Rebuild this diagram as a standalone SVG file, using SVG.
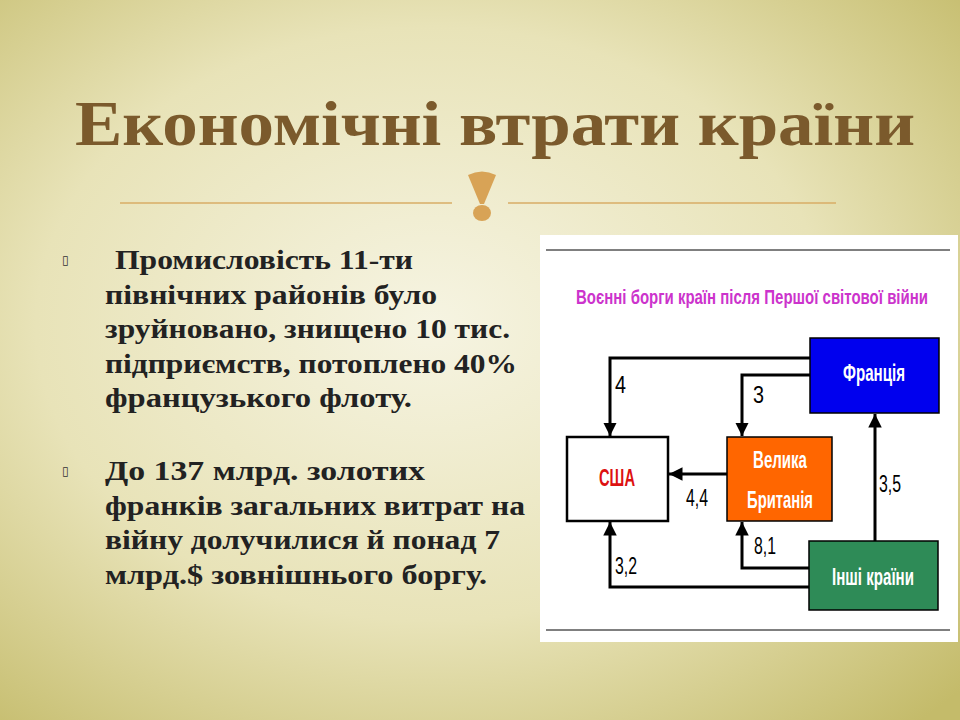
<svg xmlns="http://www.w3.org/2000/svg" width="960" height="720" viewBox="0 0 960 720">
<defs>
<radialGradient id="bg" cx="0.45" cy="0.45" r="0.75">
<stop offset="0" stop-color="#f6f4e2"/><stop offset="0.55" stop-color="#e8e3b8"/><stop offset="1" stop-color="#c4bb6a"/>
</radialGradient>
<marker id="ah" viewBox="0 0 10 10" refX="10" refY="5" markerWidth="4.5" markerHeight="4.5" orient="auto" markerUnits="strokeWidth"><path d="M0,0 L10,5 L0,10 z" fill="#000"/></marker>
<style>
.body{font-family:"Liberation Serif",serif;font-weight:bold;font-size:28px;fill:#222}
.bul{font-family:"DejaVu Sans",sans-serif;font-size:12px;fill:#333}
.lbl{font-family:"Liberation Sans",sans-serif;font-size:24px;fill:#000}
.nt{font-family:"Liberation Sans",sans-serif;font-weight:bold;font-size:24px;text-anchor:middle}
.con{fill:none;stroke:#000;stroke-width:3}
</style>
</defs>
<rect width="960" height="720" fill="url(#bg)"/>
<text x="75" y="145" textLength="840" lengthAdjust="spacingAndGlyphs" font-family="Liberation Serif,serif" font-weight="bold" font-size="64" fill="#7b5a2c">Економічні втрати країни</text>
<line x1="120" y1="203" x2="452" y2="203" stroke="#d8ac66" stroke-width="1.5"/>
<line x1="508" y1="203" x2="836" y2="203" stroke="#d8ac66" stroke-width="1.5"/>
<path d="M468,175 Q482,168 496,175 L484,204 L480,204 Z" fill="#d8a356"/>
<ellipse cx="482" cy="213" rx="9" ry="8" fill="#d8a356"/>
<text class="bul" x="62" y="264">▯</text>
<text class="body" x="115" y="269" textLength="298" lengthAdjust="spacingAndGlyphs">Промисловість 11-ти</text>
<text class="body" x="105" y="304" textLength="332" lengthAdjust="spacingAndGlyphs">північних районів було</text>
<text class="body" x="105" y="338" textLength="405" lengthAdjust="spacingAndGlyphs">зруйновано, знищено 10 тис.</text>
<text class="body" x="105" y="373" textLength="412" lengthAdjust="spacingAndGlyphs">підприємств, потоплено 40%</text>
<text class="body" x="105" y="407" textLength="307" lengthAdjust="spacingAndGlyphs">французького флоту.</text>
<text class="bul" x="62" y="475">▯</text>
<text class="body" x="105" y="480" textLength="320" lengthAdjust="spacingAndGlyphs">До 137 млрд. золотих</text>
<text class="body" x="105" y="515" textLength="420" lengthAdjust="spacingAndGlyphs">франків загальних витрат на</text>
<text class="body" x="105" y="549" textLength="395" lengthAdjust="spacingAndGlyphs">війну долучилися й понад 7</text>
<text class="body" x="105" y="584" textLength="382" lengthAdjust="spacingAndGlyphs">млрд.$ зовнішнього боргу.</text>
<rect x="540" y="235" width="418" height="407" fill="#fff"/>
<line x1="546" y1="250" x2="950" y2="250" stroke="#000" stroke-width="1"/>
<line x1="546" y1="630" x2="950" y2="630" stroke="#000" stroke-width="1"/>
<text x="576" y="304" textLength="352" lengthAdjust="spacingAndGlyphs" font-family="Liberation Sans,sans-serif" font-weight="bold" font-size="21" fill="#cc33cc">Воєнні борги країн після Першої світової війни</text>
<g id="connectors">
<path class="con" d="M810,358 H610 V436" marker-end="url(#ah)"/>
<path class="con" d="M810,375 H742 V436" marker-end="url(#ah)"/>
<path class="con" d="M727,474 H669" marker-end="url(#ah)"/>
<path class="con" d="M875,541 V414" marker-end="url(#ah)"/>
<path class="con" d="M809,568 H742 V522" marker-end="url(#ah)"/>
<path class="con" d="M809,587 H610 V522" marker-end="url(#ah)"/>
<text class="lbl" x="615" y="393" textLength="11" lengthAdjust="spacingAndGlyphs">4</text>
<text class="lbl" x="753" y="403" textLength="11" lengthAdjust="spacingAndGlyphs">3</text>
<text class="lbl" x="686" y="506" textLength="22" lengthAdjust="spacingAndGlyphs">4,4</text>
<text class="lbl" x="879" y="492" textLength="22" lengthAdjust="spacingAndGlyphs">3,5</text>
<text class="lbl" x="754" y="554" textLength="22" lengthAdjust="spacingAndGlyphs">8,1</text>
<text class="lbl" x="615" y="574" textLength="22" lengthAdjust="spacingAndGlyphs">3,2</text>
</g>
<g id="france"><rect x="810" y="338" width="129" height="75" fill="#0000ee" stroke="#000" stroke-width="1.5"/><text class="nt" x="874" y="381" fill="#fff" textLength="62" lengthAdjust="spacingAndGlyphs">Франція</text></g>
<g id="usa"><rect x="567" y="437" width="101" height="84" fill="#fff" stroke="#000" stroke-width="2.5"/><text class="nt" x="617" y="486" fill="#dd1111" textLength="36" lengthAdjust="spacingAndGlyphs">США</text></g>
<g id="gb"><rect x="727" y="437" width="105" height="84" fill="#ff6600" stroke="#000" stroke-width="1.5"/><text class="nt" x="780" y="468" fill="#fff" textLength="54" lengthAdjust="spacingAndGlyphs">Велика</text><text class="nt" x="780" y="508" fill="#fff" textLength="66" lengthAdjust="spacingAndGlyphs">Британія</text></g>
<g id="others"><rect x="809" y="541" width="129" height="69" fill="#2e8b57" stroke="#000" stroke-width="1.5"/><text class="nt" x="873" y="585" fill="#fff" textLength="82" lengthAdjust="spacingAndGlyphs">Інші країни</text></g>
</svg>
